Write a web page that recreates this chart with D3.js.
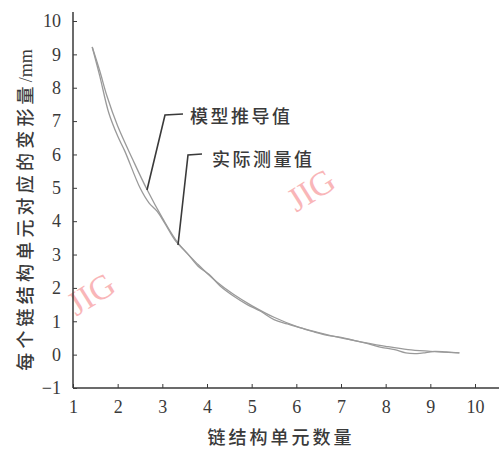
<!DOCTYPE html>
<html>
<head>
<meta charset="utf-8">
<script src="https://cdn.jsdelivr.net/npm/d3@7"></script>
<style>
  body { margin: 0; background: #fff; }
  svg { display: block; }
</style>
</head>
<body>
<div class="chart"></div>
<script>
// data
const xTicks = [1, 2, 3, 4, 5, 6, 7, 8, 9, 10];
const yTicks = [-1, 0, 1, 2, 3, 4, 5, 6, 7, 8, 9, 10];

// 模型推导值
const modelX = [1.43, 1.6, 1.76, 2.0, 2.34, 2.66, 3.0, 3.35, 3.8, 4.2, 4.6, 5.0, 5.5, 6.0, 6.5, 7.0, 7.5, 8.0, 8.5, 9.0, 9.65];
const modelY = [9.22, 8.5, 7.75, 6.85, 5.84, 4.94, 4.1, 3.35, 2.7, 2.2, 1.8, 1.47, 1.12, 0.85, 0.66, 0.5, 0.37, 0.25, 0.15, 0.1, 0.05];

// 实际测量值
const measX = [1.43, 1.6, 1.8, 2.0, 2.16, 2.5, 2.7, 2.88, 3.05, 3.3, 3.55, 3.8, 4.05, 4.3, 4.6, 4.9, 5.2, 5.5, 5.8, 6.1, 6.4, 6.7, 7.0, 7.3, 7.6, 7.9, 8.2, 8.45, 8.7, 8.9, 9.1, 9.35, 9.65];
const measY = [9.22, 8.35, 7.25, 6.55, 6.1, 5.0, 4.55, 4.3, 3.95, 3.4, 3.05, 2.65, 2.4, 2.05, 1.75, 1.5, 1.3, 1.05, 0.92, 0.8, 0.68, 0.58, 0.52, 0.42, 0.33, 0.22, 0.15, 0.05, 0.03, 0.06, 0.1, 0.08, 0.05];

const labelModel = "模型推导值";
const labelMeas = "实际测量值";
const xTitle = "链结构单元数量";
const yTitle = "每个链结构单元对应的变形量";
const yUnit = "/mm";

// svg layout
const width = 499, height = 452;
const svg = d3.select(".chart").append("svg")
    .attr("width", width)
    .attr("height", height);

const x = d3.scaleLinear().domain([1, 10]).range([73, 475]);
const y = d3.scaleLinear().domain([-1, 10]).range([388, 21]);

const ink = "#3a3a3a";
const serif = "'Liberation Serif', 'DejaVu Serif', serif";
const cjk = "'Noto Sans CJK SC', sans-serif";

// watermarks
[[311, 190], [91, 294]].forEach(([wx, wy]) => {
    svg.append("text")
        .attr("transform", `translate(${wx},${wy}) rotate(-32)`)
        .attr("text-anchor", "middle")
        .attr("dominant-baseline", "central")
        .attr("font-family", serif)
        .attr("font-size", 34)
        .attr("fill", "#f9b6b8")
        .text("JIG");
});

// X axis
const gx = svg.append("g")
    .attr("transform", `translate(0,${y(-1)})`)
    .call(d3.axisBottom(x)
        .tickValues(xTicks)
        .tickSizeInner(-4)
        .tickSizeOuter(0)
        .tickPadding(12));
gx.select(".domain").remove();
gx.selectAll("line").attr("stroke", ink);
gx.selectAll("text")
    .attr("font-family", serif)
    .attr("font-size", 18)
    .attr("fill", ink);
svg.append("line")
    .attr("x1", x(1)).attr("x2", width)
    .attr("y1", y(-1)).attr("y2", y(-1))
    .attr("stroke", ink).attr("stroke-width", 1.5);

// Y axis
const gy = svg.append("g")
    .attr("transform", `translate(${x(1)},0)`)
    .call(d3.axisLeft(y)
        .tickValues(yTicks)
        .tickSizeInner(-4)
        .tickSizeOuter(0)
        .tickPadding(12));
gy.select(".domain").remove();
gy.selectAll("line").attr("stroke", ink);
gy.selectAll("text")
    .attr("font-family", serif)
    .attr("font-size", 18)
    .attr("fill", ink);
svg.append("line")
    .attr("x1", x(1)).attr("x2", x(1))
    .attr("y1", 12).attr("y2", y(-1))
    .attr("stroke", ink).attr("stroke-width", 1.5);

// axis titles
svg.append("text")
    .attr("x", 281)
    .attr("y", 444)
    .attr("text-anchor", "middle")
    .attr("font-family", cjk)
    .attr("font-weight", 500)
    .attr("font-size", 18)
    .attr("letter-spacing", 3)
    .attr("fill", ink)
    .text(xTitle);
const yt = svg.append("text")
    .attr("transform", "translate(32,210) rotate(-90)")
    .attr("text-anchor", "middle")
    .attr("font-family", cjk)
    .attr("font-weight", 500)
    .attr("font-size", 18)
    .attr("fill", ink);
yt.append("tspan").attr("letter-spacing", 4.2).text(yTitle);
yt.append("tspan").attr("font-family", serif).text(yUnit);

// the two curves
const line = d3.line()
    .x(d => x(d[0]))
    .y(d => y(d[1]))
    .curve(d3.curveCatmullRom);
[[modelX, modelY], [measX, measY]].forEach(([xs, ys]) => {
    svg.append("path")
        .datum(d3.zip(xs, ys))
        .attr("fill", "none")
        .attr("stroke", "#9a9a9a")
        .attr("stroke-width", 1.3)
        .attr("d", line);
});

// leaders and labels
const leaders = [
    { label: labelModel, tx: 190, ty: 115, pts: [[183, 114], [165, 115], [147, 190]] },
    { label: labelMeas, tx: 212, ty: 158, pts: [[202, 154], [188, 155], [178, 245]] }
];
leaders.forEach(l => {
    svg.append("path")
        .attr("d", d3.line()(l.pts))
        .attr("fill", "none")
        .attr("stroke", ink)
        .attr("stroke-width", 1.6);
    svg.append("text")
        .attr("x", l.tx)
        .attr("y", l.ty)
        .attr("dominant-baseline", "central")
        .attr("font-family", cjk)
        .attr("font-weight", 500)
        .attr("font-size", 18)
        .attr("letter-spacing", 2.5)
        .attr("fill", ink)
        .text(l.label);
});
</script>
</body>
</html>
